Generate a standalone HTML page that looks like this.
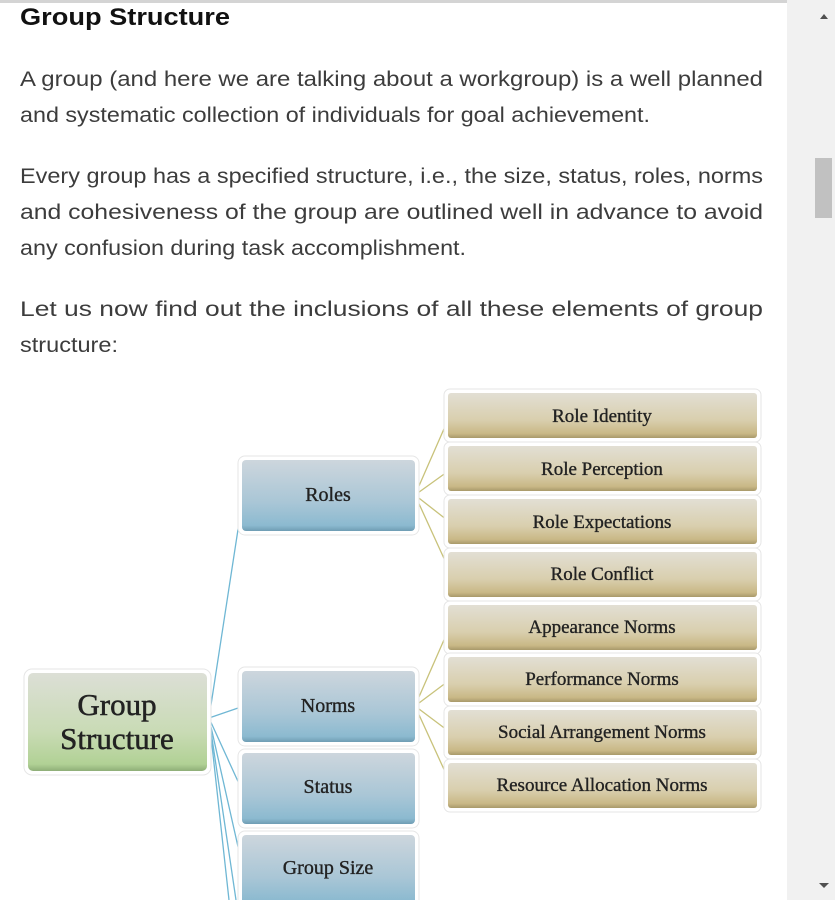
<!DOCTYPE html>
<html><head><meta charset="utf-8"><style>
html,body{margin:0;padding:0;background:#fff;width:835px;height:900px;overflow:hidden}
</style></head><body>
<svg width="835" height="900" xmlns="http://www.w3.org/2000/svg" style="position:absolute;left:0;top:0">
<defs>
<linearGradient id="tan" x1="0" y1="0" x2="0" y2="1">
<stop offset="0" stop-color="#e2dfd4"/><stop offset="0.6" stop-color="#d9cfae"/><stop offset="0.9" stop-color="#c9b886"/><stop offset="1" stop-color="#a8996a"/></linearGradient>
<linearGradient id="blue" x1="0" y1="0" x2="0" y2="1">
<stop offset="0" stop-color="#cdd6dd"/><stop offset="0.6" stop-color="#a9c6d6"/><stop offset="0.92" stop-color="#8cbad0"/><stop offset="1" stop-color="#6f9db4"/></linearGradient>
<linearGradient id="green" x1="0" y1="0" x2="0" y2="1">
<stop offset="0" stop-color="#dcdfd6"/><stop offset="0.6" stop-color="#c9dbb5"/><stop offset="0.93" stop-color="#b1d195"/><stop offset="1" stop-color="#8fae78"/></linearGradient>
</defs>
<rect x="0" y="0" width="787" height="3" fill="#d4d4d4"/>
<rect x="787" y="0" width="48" height="900" fill="#f1f1f1"/>
<rect x="815" y="158" width="17" height="60" fill="#c1c1c1"/>
<path d="M820 19 L824 14 L828 19 Z" fill="#505050"/>
<path d="M819 883 L824 888 L829 883 Z" fill="#505050"/>
<g font-family="Liberation Sans, Arial, sans-serif" fill="#3c3c3c">
<text x="20" y="25" font-size="24" font-weight="bold" fill="#111" textLength="210" lengthAdjust="spacingAndGlyphs">Group Structure</text>
<g font-size="21">
<text x="20" y="86" textLength="743" lengthAdjust="spacingAndGlyphs">A group (and here we are talking about a workgroup) is a well planned</text>
<text x="20" y="122" textLength="630" lengthAdjust="spacingAndGlyphs">and systematic collection of individuals for goal achievement.</text>
<text x="20" y="183" textLength="743" lengthAdjust="spacingAndGlyphs">Every group has a specified structure, i.e., the size, status, roles, norms</text>
<text x="20" y="219" textLength="743" lengthAdjust="spacingAndGlyphs">and cohesiveness of the group are outlined well in advance to avoid</text>
<text x="20" y="255" textLength="446" lengthAdjust="spacingAndGlyphs">any confusion during task accomplishment.</text>
<text x="20" y="316" textLength="743" lengthAdjust="spacingAndGlyphs">Let us now find out the inclusions of all these elements of group</text>
<text x="20" y="352" textLength="98" lengthAdjust="spacingAndGlyphs">structure:</text>
</g></g>
<g stroke="#6fb7d4" stroke-width="1.3" fill="none">
<path d="M209 718 L241 510"/><path d="M209 718 L241 707"/><path d="M209 718 L241 788"/><path d="M209 718 L241 860"/><path d="M209 718 L236 900"/><path d="M209 718 L229 900"/>
</g>
<g stroke="#c8c27a" stroke-width="1.3" fill="none">
<path d="M415 495 L447 422"/><path d="M415 495 L447 472"/><path d="M415 495 L447 520"/><path d="M415 495 L447 565"/>
<path d="M415 706 L447 633"/><path d="M415 706 L447 682"/><path d="M415 706 L447 730"/><path d="M415 706 L447 776"/>
</g>
<g font-family="Liberation Serif, 'DejaVu Serif', serif" fill="#222" text-anchor="middle" font-size="20">
<rect x="24" y="669" width="187" height="106" rx="8" fill="#fff" stroke="#e6e6e6"/>
<rect x="28" y="673" width="179" height="98" rx="5" fill="url(#green)"/>
<g stroke="#222" stroke-width="0.5"><text x="117" y="715" font-size="31">Group</text><text x="117" y="749" font-size="31">Structure</text></g>
<g>
<rect x="238" y="456" width="181" height="79" rx="7" fill="#fff" stroke="#e6e6e6"/><rect x="242" y="460" width="173" height="71" rx="4" fill="url(#blue)"/>
<rect x="238" y="667" width="181" height="79" rx="7" fill="#fff" stroke="#e6e6e6"/><rect x="242" y="671" width="173" height="71" rx="4" fill="url(#blue)"/>
<rect x="238" y="749" width="181" height="79" rx="7" fill="#fff" stroke="#e6e6e6"/><rect x="242" y="753" width="173" height="71" rx="4" fill="url(#blue)"/>
<rect x="238" y="831" width="181" height="79" rx="7" fill="#fff" stroke="#e6e6e6"/><rect x="242" y="835" width="173" height="71" rx="4" fill="url(#blue)"/>
<g stroke="#222" stroke-width="0.35">
<text x="328" y="501">Roles</text><text x="328" y="712">Norms</text><text x="328" y="793">Status</text><text x="328" y="874">Group Size</text>
</g>
</g>
<g font-size="19">
<rect x="444" y="389" width="317" height="53" rx="6" fill="#fff" stroke="#e6e6e6"/><rect x="448" y="393" width="309" height="45" rx="3" fill="url(#tan)"/>
<rect x="444" y="442" width="317" height="53" rx="6" fill="#fff" stroke="#e6e6e6"/><rect x="448" y="446" width="309" height="45" rx="3" fill="url(#tan)"/>
<rect x="444" y="495" width="317" height="53" rx="6" fill="#fff" stroke="#e6e6e6"/><rect x="448" y="499" width="309" height="45" rx="3" fill="url(#tan)"/>
<rect x="444" y="548" width="317" height="53" rx="6" fill="#fff" stroke="#e6e6e6"/><rect x="448" y="552" width="309" height="45" rx="3" fill="url(#tan)"/>
<rect x="444" y="601" width="317" height="53" rx="6" fill="#fff" stroke="#e6e6e6"/><rect x="448" y="605" width="309" height="45" rx="3" fill="url(#tan)"/>
<rect x="444" y="653" width="317" height="53" rx="6" fill="#fff" stroke="#e6e6e6"/><rect x="448" y="657" width="309" height="45" rx="3" fill="url(#tan)"/>
<rect x="444" y="706" width="317" height="53" rx="6" fill="#fff" stroke="#e6e6e6"/><rect x="448" y="710" width="309" height="45" rx="3" fill="url(#tan)"/>
<rect x="444" y="759" width="317" height="53" rx="6" fill="#fff" stroke="#e6e6e6"/><rect x="448" y="763" width="309" height="45" rx="3" fill="url(#tan)"/>
<g stroke="#222" stroke-width="0.35">
<text x="602" y="422">Role Identity</text>
<text x="602" y="475">Role Perception</text>
<text x="602" y="528">Role Expectations</text>
<text x="602" y="580">Role Conflict</text>
<text x="602" y="633">Appearance Norms</text>
<text x="602" y="685">Performance Norms</text>
<text x="602" y="738">Social Arrangement Norms</text>
<text x="602" y="791">Resource Allocation Norms</text>
</g>
</g>
</g>
</svg>
</body></html>
